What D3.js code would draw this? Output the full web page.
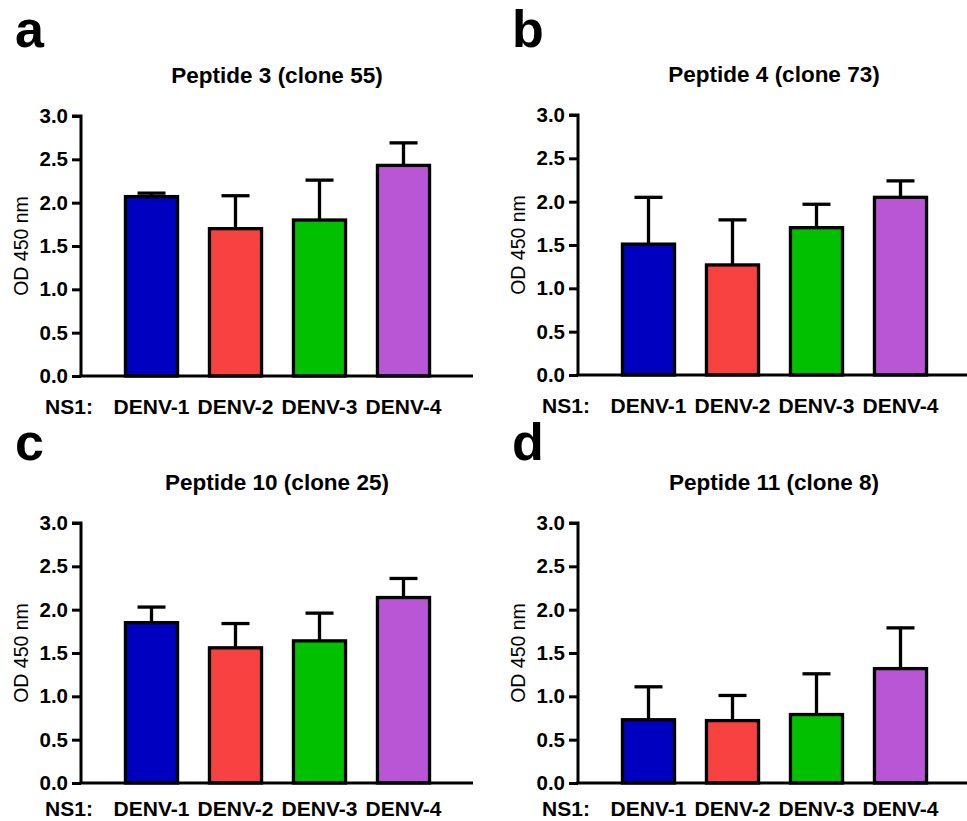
<!DOCTYPE html>
<html>
<head>
<meta charset="utf-8">
<script src="https://cdn.jsdelivr.net/npm/d3@7"></script>
<style>
  body { margin: 0; background: #fff; }
  svg { display: block; font-family: "Liberation Sans", Arial, sans-serif; }
</style>
</head>
<body>
<svg id="chart" width="967" height="821"></svg>
<script>
// data
const strains = ["DENV-1", "DENV-2", "DENV-3", "DENV-4"];
const panelLetters = ["a", "b", "c", "d"];
const panelTitles = ["Peptide 3 (clone 55)", "Peptide 4 (clone 73)", "Peptide 10 (clone 25)", "Peptide 11 (clone 8)"];
const meanOD = [
    [2.07, 1.70, 1.80, 2.43],
    [1.51, 1.27, 1.70, 2.05],
    [1.85, 1.56, 1.64, 2.14],
    [0.73, 0.72, 0.79, 1.32]
];
const errOD = [
    [0.04, 0.38, 0.46, 0.26],
    [0.54, 0.52, 0.27, 0.19],
    [0.18, 0.28, 0.32, 0.22],
    [0.38, 0.29, 0.47, 0.47]
];
const yTicks = [0, 0.5, 1.0, 1.5, 2.0, 2.5, 3.0];
const barColors = ["#0000c0", "#f84242", "#00c000", "#b856d6"];

// layout of each panel: axis origin (x of y axis, y of top tick), letter baseline, x label offset
const layout = [
    { ox: 81, oy: 116, letterY: 47, labelDy: 38 },
    { ox: 578, oy: 115, letterY: 47, labelDy: 38 },
    { ox: 81, oy: 523, letterY: 460, labelDy: 33 },
    { ox: 578, oy: 523, letterY: 460, labelDy: 33 }
];

const svg = d3.select("#chart");
const plotH = 260;

panelLetters.forEach((letter, i) => {
    const L = layout[i];
    const g = svg.append("g").attr("transform", `translate(${L.ox},${L.oy})`);

    const y = d3.scaleLinear().domain([0, 3]).range([plotH, 0]);
    const x = d3.scaleBand().domain(strains)
        .range([28.5, 364.5])
        .paddingInner(0.38)
        .paddingOuter(0.19);

    // panel letter
    svg.append("text")
        .attr("x", L.ox - 66)
        .attr("y", L.letterY)
        .attr("font-size", 52)
        .attr("font-weight", "bold")
        .text(letter);

    // title
    g.append("text")
        .attr("x", 196)
        .attr("y", -33)
        .attr("text-anchor", "middle")
        .attr("font-size", 22.5)
        .attr("font-weight", "bold")
        .text(panelTitles[i]);

    // error bars (behind bars)
    const eb = g.append("g")
        .attr("stroke", "#000")
        .attr("stroke-width", 3.3);
    strains.forEach((s, j) => {
        const cx = x(s) + x.bandwidth() / 2;
        const top = y(meanOD[i][j] + errOD[i][j]);
        eb.append("line")
            .attr("x1", cx).attr("x2", cx)
            .attr("y1", y(meanOD[i][j])).attr("y2", top);
        eb.append("line")
            .attr("x1", cx - 14).attr("x2", cx + 14)
            .attr("y1", top).attr("y2", top);
    });

    // bars
    g.append("g").selectAll("rect")
        .data(strains)
        .join("rect")
        .attr("x", d => x(d))
        .attr("width", x.bandwidth())
        .attr("y", (d, j) => y(meanOD[i][j]))
        .attr("height", (d, j) => plotH - y(meanOD[i][j]))
        .attr("fill", (d, j) => barColors[j])
        .attr("stroke", "#000")
        .attr("stroke-width", 3.3);

    // y axis
    const yAxis = g.append("g")
        .call(d3.axisLeft(y).tickValues(yTicks).tickFormat(d3.format(".1f")).tickSize(9).tickPadding(4));
    yAxis.select(".domain").attr("stroke-width", 3).attr("d", `M-9,0H0V${plotH}`);
    yAxis.selectAll(".tick line").attr("stroke-width", 3);
    yAxis.selectAll(".tick text")
        .attr("font-size", 20.5)
        .attr("font-weight", "bold")
        .attr("fill", "#000");
    yAxis.attr("font-family", null);

    // x axis line (no ticks)
    const xAxis = g.append("g")
        .attr("transform", `translate(0,${plotH})`)
        .call(d3.axisBottom(x).tickSize(0).tickPadding(0));
    xAxis.select(".domain").attr("stroke-width", 3).attr("d", "M-1.5,0H392");
    xAxis.selectAll(".tick text")
        .attr("dy", null)
        .attr("y", L.labelDy)
        .attr("font-size", 21)
        .attr("font-weight", "bold")
        .attr("fill", "#000");
    xAxis.attr("font-family", null);

    g.append("text")
        .attr("x", -12)
        .attr("y", plotH + L.labelDy)
        .attr("text-anchor", "middle")
        .attr("font-size", 21)
        .attr("font-weight", "bold")
        .text("NS1:");

    // y label
    g.append("text")
        .attr("transform", `translate(-53,${plotH / 2}) rotate(-90)`)
        .attr("text-anchor", "middle")
        .attr("font-size", 19.5)
        .text("OD 450 nm");
});
</script>
</body>
</html>
